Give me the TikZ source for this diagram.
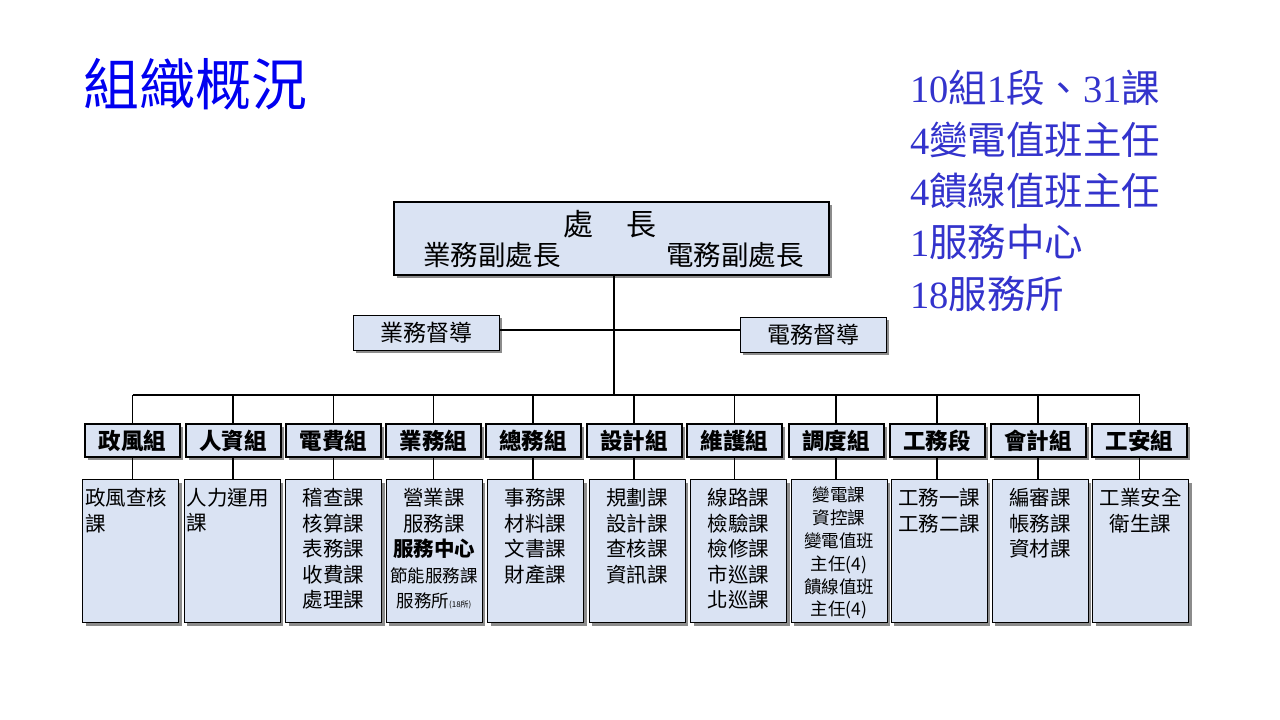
\documentclass[tikz,border=0pt]{standalone}
\usepackage{fontspec}
\setmainfont{Noto Sans CJK TC}
\newfontfamily\serifdg{Liberation Serif}
\usetikzlibrary{shadows}
\definecolor{boxblue}{RGB}{218,227,243}
\definecolor{shadowgray}{RGB}{140,140,140}
\definecolor{titleblue}{RGB}{0,0,240}
\definecolor{infoblue}{RGB}{51,51,204}
\newcommand{\dg}[1]{{\serifdg #1}}
\tikzset{
  box/.style={draw=black, fill=boxblue, general shadow={fill=shadowgray, shadow xshift=3pt, shadow yshift=-3pt}},
  bossbox/.style={box, line width=2pt, minimum width=435pt, minimum height=73pt},
  supbox/.style={box, line width=1pt, minimum width=146pt, minimum height=35pt, font=\fontsize{23}{26}\selectfont},
  groupbox/.style={box, line width=2pt, minimum width=95pt, minimum height=33pt, inner sep=0pt, font=\fontsize{22.5}{24}\selectfont\bfseries},
  subbox/.style={box, line width=1pt, minimum width=96pt, minimum height=143pt, anchor=north, inner sep=0pt},
  subtext/.style={anchor=north, inner sep=0pt, align=center, font=\fontsize{20.5}{25.5}\selectfont},
  conn/.style={draw=black, line width=1.6pt},
  infotext/.style={anchor=west, inner sep=0pt, text=infoblue, font=\fontsize{38.5}{40}\selectfont}
}
\begin{document}
\begin{tikzpicture}[x=1pt, y=-1pt]
\useasboundingbox[fill=white] (0,0) rectangle (1280,720);
% title
\node[anchor=west, inner sep=0pt, text=titleblue, font=\fontsize{56}{60}\selectfont] (title) at (83,84) {組織概況};
% info
\node[infotext] (i1) at (910,88) {\dg{10}組\dg{1}段、\dg{31}課};
\node[infotext] (i2) at (910,140) {\dg{4}變電值班主任};
\node[infotext] (i3) at (910,191) {\dg{4}饋線值班主任};
\node[infotext] (i4) at (910,242) {\dg{1}服務中心};
\node[infotext] (i5) at (910,294) {\dg{18}服務所};
% boss
\node[bossbox] (boss) at (611.5,238.5) {};
\node[inner sep=0pt, font=\fontsize{30}{32}\selectfont] (bt) at (610,224) {處\hspace{1.1em}長};
\node[inner sep=0pt, font=\fontsize{27.5}{30}\selectfont] (bl) at (492,255) {業務副處長};
\node[inner sep=0pt, font=\fontsize{27.5}{30}\selectfont] (br) at (735,255) {電務副處長};
% supervisors
\node[supbox] (yw) at (426,332.5) {業務督導};
\node[supbox] (dw) at (813,334.5) {電務督導};
\coordinate (sup) at (614,330);
\coordinate (busL) at (132.5,395);
\coordinate (busR) at (1139.5,395);
\coordinate (trunk) at (614,275);
\draw[conn] (trunk) -- (trunk |- busL);
\draw[conn] (yw.east |- sup) -- (dw.west |- sup);
\draw[conn] (busL) -- (busR);
% groups
\foreach \i/\x/\sx/\t in {1/132.5/130.5/政風組, 2/233/232/人資組, 3/333.5/333.5/電費組, 4/433.5/434/業務組, 5/533/535.5/總務組, 6/634/637/設計組, 7/734.5/738.5/維護組, 8/836/839/調度組, 9/937/939/工務段, 10/1038/1040/會計組, 11/1139.5/1140.5/工安組}{
  \node[groupbox] (g\i) at (\x,440.5) {\t};
  \node[subbox] (s\i) at (\sx,479) {};
  \draw[conn] (g\i.north) -- (g\i.north |- busL);
  \draw[conn] (g\i.south) -- (g\i.south |- s\i.north);
}
% sub texts
\node[subtext, anchor=north west, align=left] (t1) at ([xshift=3pt,yshift=-9pt]s1.north west) {政風查核\\課};
\node[subtext, anchor=north west, align=left] (t2) at ([xshift=3pt,yshift=-9pt]s2.north west) {人力運用\\課};
\node[subtext] (t3) at ([yshift=-9pt]s3.north) {稽查課\\核算課\\表務課\\收費課\\處理課};
\node[subtext] (t4) at ([yshift=-9pt]s4.north) {營業課\\服務課\\{\bfseries 服務中心}\\{\fontsize{17.5}{24}\selectfont 節能服務課}\\{\fontsize{17.5}{24}\selectfont 服務所{\fontsize{8}{10}\selectfont(18所)}}};
\node[subtext] (t5) at ([yshift=-9pt]s5.north) {事務課\\材料課\\文書課\\財產課};
\node[subtext] (t6) at ([yshift=-9pt]s6.north) {規劃課\\設計課\\查核課\\資訊課};
\node[subtext] (t7) at ([yshift=-9pt]s7.north) {線路課\\檢驗課\\檢修課\\市巡課\\北巡課};
\node[subtext, font=\fontsize{17.5}{22.8}\selectfont] (t8) at ([yshift=-8pt]s8.north) {變電課\\資控課\\變電值班\\主任(4)\\饋線值班\\主任(4)};
\node[subtext] (t9) at ([yshift=-9pt]s9.north) {工務一課\\工務二課};
\node[subtext] (t10) at ([yshift=-9pt]s10.north) {編審課\\帳務課\\資材課};
\node[subtext] (t11) at ([yshift=-9pt]s11.north) {工業安全\\衛生課};
\end{tikzpicture}
\end{document}
